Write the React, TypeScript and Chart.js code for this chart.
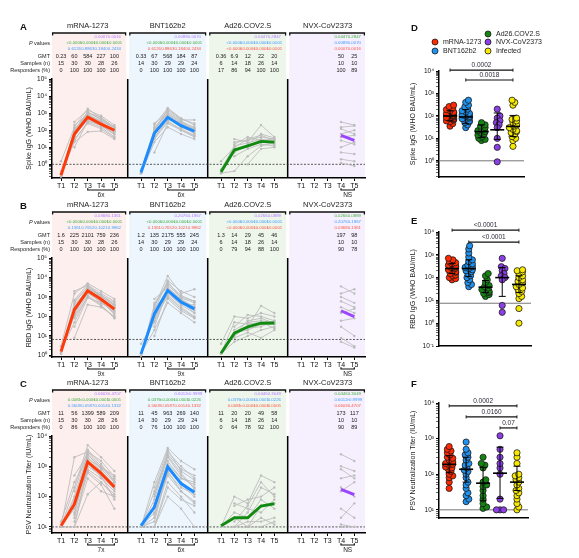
import React, { useEffect, useRef } from "react";
import { Chart, registerables } from "chart.js";

Chart.register(...registerables);

const FONT = '"Liberation Sans", Arial, Helvetica, sans-serif';

/* ---------------- categories & labels ---------------- */
const timepoints = ["T1", "T2", "T3", "T4", "T5"];
const vaccines = ["mRNA-1273", "BNT162b2", "Ad26.COV2.S", "NVX-CoV2373"];
const cohorts = ["mRNA-1273", "BNT162b2", "Ad26.COV2.S", "NVX-CoV2373", "Infected"];
const tableRowLabels = ["GMT", "Samples (n)", "Responders (%)"];
const pValueLabel = ["P", " values"];

/* ---------------- Panel A : Spike IgG (per subject, T1..T5; NVX T4..T5) ---------------- */
const spikeMrna = [
  [0.2, 80, 900, 300, 100], [0.3, 40, 600, 250, 80], [1.5, 150, 1800, 500, 160],
  [0.2, 25, 300, 150, 40], [0.25, 100, 1200, 400, 110], [null, 60, 500, 200, 70],
  [null, 200, 800, 350, 150], [0.4, 20, 80, 90, 30], [null, 50, 400, 180, 55],
  [0.2, 120, 700, 260, 95], [null, 30, 250, 120, 35], [null, 70, 1000, 600, 130],
  [null, 300, 1500, 700, 200], [0.3, 90, 1100, 450, 140], [null, 45, 700, 320, 90],
  [null, 10, 350, 200, 60],
];
const spikeBnt = [
  [0.3, 90, 1500, 400, 400], [0.35, 50, 700, 200, 90], [null, 200, 2000, 500, 200],
  [0.3, 30, 300, 120, 50], [0.4, 120, 900, 250, 110], [null, 60, 500, 150, 70],
  [null, 100, 400, 300, 150], [0.3, 20, 150, 60, 30], [null, 70, 600, 180, 80],
  [0.5, 40, 350, 100, 45], [null, 150, 1000, 300, 100], [null, 80, 800, 200, 60],
  [null, 110, 1800, 450, 250], [0.3, 35, 500, 220, 120], [null, 250, 1200, 350, 130],
  [null, 5, 250, 100, 40],
];
const spikeAd26 = [
  [0.3, 0.4, 3, 12, 18], [1.5, 10, 30, 50, 25], [null, 20, 25, 40, 30],
  [null, 5, 15, 60, 35], [0.3, 8, 10, 20, 15], [null, 30, 20, 200, 40],
  [null, 3, 8, 15, 12], [0.5, 12, 18, 30, 22], [null, null, 1, 8, 10],
  [null, 15, 40, 25, 30],
];
const spikeNvx = [
  [300, 200], [150, 180], [120, 60], [60, 100], [40, 50],
  [25, 15], [10, 20], [5, 4], [2, 1.5], [1.2, 0.8],
];
const spikeGmt = [[0.23, 60, 584, 227, 100], [0.33, 67, 568, 184, 87], [0.36, 6.9, 12, 22, 20], [50, 25]];
const spikeSamples = [[15, 30, 30, 28, 26], [14, 30, 29, 29, 24], [6, 14, 18, 26, 14], [10, 10]];
const spikeResponders = [[0, 100, 100, 100, 100], [0, 100, 100, 100, 100], [17, 86, 94, 100, 100], [100, 89]];
const spikePvals = [
  [["", "", "", "0.0007", "0.0016"], ["", "<0.0001", "<0.0001", "<0.0001", "<0.0001"], ["", "0.6126", "0.8863", "0.1840", "0.2434"]],
  [["", "", "", "0.0089", "0.0070"], ["", "<0.0001", "<0.0001", "<0.0001", "<0.0001"], ["", "0.6126", "0.8863", "0.1840", "0.2434"]],
  [["", "", "", "0.0447", "0.2847"], ["", "<0.0001", "<0.0001", "<0.0001", "<0.0001"], ["", "<0.0001", "<0.0001", "<0.0001", "<0.0001"]],
  [["", "", "", "0.0447", "0.2847"], ["", "", "", "0.0089", "0.0070"], ["", "", "", "0.0007", "0.0016"]],
];
const spikeFold = ["6x", "6x", "", "NS"];
const spikeCutoff = 1;

/* ---------------- Panel B : RBD IgG ---------------- */
const rbdMrna = [
  [1.5, 300, 3000, 1000, 400], [1.2, 200, 2000, 800, 300], [3, 1500, 5000, 2000, 800],
  [null, 8, 400, 300, 100], [1.5, 500, 3500, 1200, 500], [null, 100, 1500, 600, 150],
  [null, 2000, 4000, 1500, 600], [1.8, 50, 1200, 400, 80], [null, 250, 2500, 900, 250],
  [1.3, 150, 1800, 500, 200], [null, 400, 2200, 700, 120], [null, 80, 1000, 350, 90],
  [null, 600, 3000, 1100, 350], [1.4, 120, 2800, 1300, 400], [null, 30, 900, 500, 180],
  [null, 700, 4500, 900, 300],
];
const rbdBnt = [
  [1, 300, 12000, 1500, 2500], [1.2, 150, 3000, 700, 300], [4, 50, 1500, 400, 150],
  [null, 10, 800, 200, 80], [1.1, 400, 5000, 1200, 600], [null, 100, 2000, 500, 200],
  [null, 200, 7000, 2000, 1000], [1.3, 20, 500, 150, 50], [null, 800, 3000, 800, 300],
  [1, 150, 1200, 300, 100], [null, 60, 2500, 600, 150], [null, 250, 1800, 400, 400],
  [null, 500, 4000, 1000, 600], [1.2, 90, 1000, 250, 90], [null, 30, 2200, 700, 250],
  [null, 350, 6000, 900, 500],
];
const rbdAd26 = [
  [1.2, 5, 10, 20, 30], [4, 100, 80, 150, 100], [null, 20, 50, 60, 50],
  [null, 10, 30, 350, 150], [1.2, 15, 20, 40, 40], [null, 30, 120, 100, 60],
  [null, 8, 15, 8, 20], [1.3, 50, 40, 50, 25], [null, null, 25, 30, 60],
  [null, 12, 60, 80, 45],
];
const rbdNvx = [
  [3500, 1500], [1500, 2500], [1000, 500], [600, 300], [300, 150],
  [150, 250], [60, 80], [30, 10], [8, 3], [5, 2.5],
];
const rbdGmt = [[1.6, 225, 2101, 759, 236], [1.2, 135, 2175, 555, 245], [1.3, 14, 29, 45, 46], [197, 98]];
const rbdSamples = [[15, 30, 30, 28, 26], [14, 30, 29, 29, 24], [6, 14, 18, 26, 14], [10, 10]];
const rbdResponders = [[0, 100, 100, 100, 100], [0, 100, 100, 100, 100], [0, 79, 94, 88, 100], [90, 78]];
const rbdPvals = [
  [["", "", "", "0.0368", "0.1361"], ["", "<0.0001", "<0.0001", "<0.0001", "<0.0001"], ["", "0.1361", "0.7652", "0.1021", "0.9962"]],
  [["", "", "", "0.2076", "0.1967"], ["", "<0.0001", "<0.0001", "<0.0001", "<0.0001"], ["", "0.1361", "0.7652", "0.1021", "0.9962"]],
  [["", "", "", "0.0266", "0.0889"], ["", "<0.0001", "<0.0001", "<0.0001", "<0.0001"], ["", "<0.0001", "<0.0001", "<0.0001", "<0.0001"]],
  [["", "", "", "0.0266", "0.0889"], ["", "", "", "0.2076", "0.1967"], ["", "", "", "0.0368", "0.1361"]],
];
const rbdFold = ["9x", "9x", "", "NS"];
const rbdCutoff = 6.6;

/* ---------------- Panel C : PSV neutralization ---------------- */
const psvMrna = [
  [10, 2000, 3000, 1000, 400], [10, 50, 1500, 600, 200], [10, 10, 120, 300, 100],
  [10, 200, 5000, 2000, 700], [10, 100, 2500, 800, 300], [null, 30, 800, 400, 150],
  [null, 10, 1000, 500, 80], [15, 300, 2000, 700, 250], [null, 20, 600, 250, 40],
  [10, 80, 1800, 900, 500], [null, 15, 400, 150, 100], [null, 150, 3500, 1200, 300],
  [null, 500, 2500, 900, 350], [10, 40, 1200, 450, 180], [null, 25, 3000, 1500, 450],
  [null, 60, 700, 300, 120],
];
const psvBnt = [
  [10, 300, 4000, 1500, 800], [10, 10, 100, 40, 10], [10, 50, 1500, 400, 300],
  [10, 20, 800, 250, 100], [10, 150, 2500, 800, 500], [null, 10, 300, 100, 30],
  [null, 40, 1000, 300, 150], [10, 80, 2000, 500, 200], [null, 10, 200, 80, 50],
  [10, 30, 600, 200, 120], [null, 100, 3000, 1000, 400], [null, 25, 500, 150, 60],
  [null, 200, 3500, 700, 350], [10, 15, 700, 150, 70], [null, 60, 1200, 400, 250],
  [null, 120, 2200, 600, 180],
];
const psvAd26 = [
  [10, 10, 10, 20, 12], [10, 100, 60, 500, 300], [null, 50, 80, 100, 200],
  [null, 10, 30, 200, 120], [10, 20, 10, 50, 60], [null, 60, 40, 30, 80],
  [null, 10, 15, 15, 20], [10, 30, 20, 80, 40], [null, null, 10, 10, 15],
  [null, 15, 50, 300, 100],
];
const psvNvx = [
  [2500, 1500], [1000, 700], [800, 400], [400, 500], [200, 100],
  [150, 300], [40, 20], [10, 10], [12, 10], [20, 60],
];
const psvGmt = [[11, 56, 1399, 589, 209], [11, 45, 963, 269, 140], [11, 20, 20, 49, 58], [173, 117]];
const psvSamples = [[15, 30, 30, 28, 26], [14, 30, 29, 29, 24], [6, 14, 18, 26, 14], [10, 10]];
const psvResponders = [[0, 86, 100, 100, 100], [0, 76, 100, 100, 100], [0, 64, 78, 92, 100], [90, 89]];
const psvPvals = [
  [["", "", "", "0.0603", "0.4707"], ["", "0.0081", "<0.0001", "<0.0001", "0.0005"], ["", "0.5609", "0.0587", "0.0014", "0.1332"]],
  [["", "", "", "0.6012", ">0.9999"], ["", "0.0376", "<0.0001", "<0.0001", "0.0226"], ["", "0.5609", "0.0587", "0.0014", "0.1332"]],
  [["", "", "", "0.0446", "0.3049"], ["", "0.0376", "<0.0001", "<0.0001", "0.0226"], ["", "0.0081", "<0.0001", "<0.0001", "0.0005"]],
  [["", "", "", "0.0446", "0.3049"], ["", "", "", "0.6012", ">0.9999"], ["", "", "", "0.0603", "0.4707"]],
];
const psvFold = ["7x", "6x", "", "NS"];
const psvCutoff = 10;

/* ---------------- Panel D : Spike IgG by cohort ---------------- */
const spikeDotMrna = [35, 45, 55, 60, 65, 70, 75, 80, 85, 90, 95, 100, 105, 110, 120, 125, 130, 140, 150, 170, 190, 220, 260, 300];
const spikeDotBnt = [30, 40, 50, 55, 60, 70, 75, 80, 90, 95, 100, 110, 120, 130, 150, 170, 200, 250, 300, 400, 500];
const spikeDotAd26 = [8, 9, 10, 12, 14, 16, 18, 20, 22, 25, 30, 35, 40, 50];
const spikeDotNvx = [200, 100, 80, 60, 50, 40, 30, 10, 4, 0.9];
const spikeDotInf = [4.4, 8, 10, 12, 15, 18, 20, 22, 25, 30, 35, 40, 50, 60, 70, 80, 300, 400, 500];
const spikeDotMean = [100, 90, 20, 24, 34];
const spikeDotLo = [60, 45, 11, 9, 12];
const spikeDotHi = [170, 190, 40, 135, 105];
const spikePairs = [[0, 4], [1, 4]];
const spikePairP = ["0.0002", "0.0018"];

/* ---------------- Panel E : RBD IgG by cohort ---------------- */
const rbdDotMrna = [80, 90, 100, 120, 130, 150, 170, 180, 200, 220, 250, 260, 280, 300, 320, 350, 400, 450, 500, 600, 700];
const rbdDotBnt = [40, 50, 60, 80, 100, 120, 150, 180, 200, 220, 250, 280, 300, 350, 400, 500, 600, 800, 1200, 1800, 2500];
const rbdDotAd26 = [15, 18, 20, 22, 25, 28, 30, 35, 40, 45, 60, 80, 120, 150];
const rbdDotNvx = [700, 300, 250, 200, 150, 120, 100, 80, 6, 3];
const rbdDotInf = [1, 4.4, 12, 15, 20, 25, 30, 35, 40, 50, 60, 70, 80, 100, 120, 150, 180, 200, 220];
const rbdDotMean = [250, 250, 38, 100, 50];
const rbdDotLo = [150, 110, 22, 15, 22];
const rbdDotHi = [420, 600, 75, 280, 120];
const rbdPairs = [[0, 4], [1, 4]];
const rbdPairP = ["<0.0001", "<0.0001"];

/* ---------------- Panel F : PSV neutralization by cohort ---------------- */
const psvDotMrna = [40, 60, 80, 90, 100, 120, 140, 150, 160, 180, 190, 200, 220, 250, 280, 300, 350, 400, 450, 500, 600];
const psvDotBnt = [17, 20, 25, 30, 40, 50, 60, 80, 100, 120, 130, 150, 180, 200, 250, 300, 350, 400, 500, 800];
const psvDotAd26 = [11, 12, 15, 20, 25, 35, 45, 50, 60, 70, 150, 180, 200, 300];
const psvDotNvx = [10, 10, 10, 20, 100, 150, 200, 300, 500, 1200];
const psvDotInf = [10, 12, 15, 20, 25, 30, 35, 40, 50, 60, 70, 80, 90, 100, 200, 300, 400];
const psvDotMean = [190, 138, 56, 107, 60];
const psvDotLo = [110, 60, 18, 21, 35];
const psvDotHi = [330, 300, 157, 575, 168];
const psvPairs = [[0, 4], [1, 4], [3, 4]];
const psvPairP = ["0.0002", "0.0160", "0.07"];

/* ---------------- styling ---------------- */
const MEAN_COLORS = ["#ff3a0a", "#1a8cff", "#118a11", "#9b45ff"];
const DOT_COLORS = ["#ff2a00", "#2191ee", "#138413", "#8c3fe6", "#f7ea00"];
const P_COLORS = ["#ff5540", "#3d9cff", "#3fae3f", "#b07aff"];
const SHADES = ["#fdefed", "#edf5fd", "#eef6eb", "#f6effd"];
const GRAY = "#bdbdbd";
const pvalVs = [[3, 2, 1], [3, 2, 0], [3, 1, 0], [2, 1, 0]];

const SUP: Record<string, string> = { "0": "\u2070", "1": "\u00b9", "2": "\u00b2", "3": "\u00b3", "4": "\u2074", "5": "\u2075", "6": "\u2076", "7": "\u2077", "8": "\u2078", "9": "\u2079", "-": "\u207b" };
const isPow10 = (v: number) => Math.abs(Math.log10(v) - Math.round(Math.log10(v))) < 1e-6;
const powLabel = (v: number) =>
  isPow10(v) ? "10" + String(Math.round(Math.log10(v))).split("").map((c) => SUP[c]).join("") : "";

function logTicks(min: number, max: number) {
  const out: any[] = [];
  for (let e = Math.floor(Math.log10(min)); e <= Math.ceil(Math.log10(max)); e++) {
    for (let k = 1; k <= 9; k++) {
      const v = parseFloat((k * Math.pow(10, e)).toPrecision(6));
      if (v >= min * 0.999 && v <= max * 1.001) out.push({ value: v, major: k === 1 });
    }
  }
  return out;
}

function logAxis(min: number, max: number, title: string, width: number, titlePad: number) {
  return {
    type: "logarithmic",
    min,
    max,
    afterBuildTicks: (s: any) => {
      s.ticks = logTicks(min, max);
    },
    afterFit: (s: any) => {
      s.width = width;
    },
    ticks: {
      autoSkip: false,
      padding: 2,
      color: "#111",
      font: { size: 6.5, family: FONT },
      callback: (v: any) => powLabel(Number(v)),
    },
    grid: {
      drawOnChartArea: false,
      drawTicks: true,
      tickLength: 3,
      color: "#000",
      tickWidth: (c: any) => (c.tick && isPow10(c.tick.value) ? 1.1 : 0.6),
    },
    border: { display: true, color: "#000", width: 1.5 },
    title: {
      display: true,
      text: title,
      color: "#222",
      font: { size: 7, family: FONT },
      padding: { top: titlePad, bottom: 0 },
    },
  };
}

function swarm(values: number[], pxDecade: number, pxUnit: number, minDist = 3.3) {
  const order = values.map((_, i) => i).sort((a, b) => values[a] - values[b]);
  const placed: { x: number; y: number }[] = [];
  const offs = new Array(values.length).fill(0);
  for (const i of order) {
    const y = Math.log10(values[i]) * pxDecade;
    let best = 0;
    for (let step = 0; step < 10; step++) {
      const cand = step === 0 ? 0 : (step % 2 ? 1 : -1) * Math.ceil(step / 2) * 0.9;
      if (placed.every((p) => Math.hypot(p.x - cand, p.y - y) >= minDist)) {
        best = cand;
        break;
      }
      best = cand;
    }
    best = Math.max(-3.6, Math.min(3.6, best));
    placed.push({ x: best, y });
    offs[i] = best / pxUnit;
  }
  return offs;
}

/* ---------------- left panels (A, B, C) ---------------- */
type LeftPanel = {
  letter: string;
  yTitle: string;
  subjects: (number | null)[][][];
  gmt: number[][];
  samples: number[][];
  responders: number[][];
  pvals: string[][][];
  fold: string[];
  cutoff: number;
  min: number;
  max: number;
};

const xTickValues = [1, 2, 3, 4, 5, 7, 8, 9, 10, 11, 13, 14, 15, 16, 17, 19, 20, 21, 22, 23];
const X_MIN = 0.32;
const X_MAX = 23.8;

function leftDecor(p: LeftPanel) {
  const bounds = [X_MIN, 6, 12, 18, X_MAX];
  const line = (ctx: any, pts: number[][]) => {
    ctx.beginPath();
    pts.forEach(([a, b], i) => (i ? ctx.lineTo(a, b) : ctx.moveTo(a, b)));
    ctx.stroke();
  };
  return {
    id: "leftDecor",
    beforeDraw(chart: any) {
      const { ctx, chartArea: ca, scales } = chart;
      const x = scales.x;
      ctx.save();
      for (let g = 0; g < 4; g++) {
        const xl = x.getPixelForValue(bounds[g]);
        const xr = x.getPixelForValue(bounds[g + 1]);
        ctx.fillStyle = SHADES[g];
        ctx.fillRect(xl, ca.top, xr - xl, ca.bottom - ca.top);
        const il = g > 0 ? 1.5 : 0;
        const ir = g < 3 ? 1.5 : 0;
        ctx.fillRect(xl + il, ca.top - 46, xr - xl - il - ir, 46);
      }
      ctx.restore();
    },
    beforeDatasetsDraw(chart: any) {
      const { ctx, chartArea: ca, scales } = chart;
      const { x, y } = scales;
      ctx.save();
      ctx.strokeStyle = "#000";
      ctx.lineWidth = 1.5;
      for (const b of [6, 12, 18]) {
        const px = x.getPixelForValue(b);
        line(ctx, [[px, ca.top], [px, ca.bottom]]);
      }
      const cy = y.getPixelForValue(p.cutoff);
      ctx.setLineDash([2, 1.5]);
      ctx.strokeStyle = "#333";
      ctx.lineWidth = 0.8;
      line(ctx, [[ca.left, cy], [ca.right, cy]]);
      ctx.restore();
    },
    afterDraw(chart: any) {
      const { ctx, chartArea: ca, scales } = chart;
      const x = scales.x;
      const cx = (g: number, t: number) => x.getPixelForValue(g * 6 + t + 1);
      ctx.save();
      ctx.textBaseline = "middle";
      // panel letter
      ctx.textAlign = "left";
      ctx.fillStyle = "#111";
      ctx.font = `bold 9.5px ${FONT}`;
      ctx.fillText(p.letter, 20, ca.top - 52);
      // row labels
      ctx.textAlign = "right";
      ctx.fillStyle = "#222";
      ctx.font = `5.5px ${FONT}`;
      const lx = ca.left - 2;
      const restW = ctx.measureText(pValueLabel[1]).width;
      ctx.fillText(pValueLabel[1], lx, ca.top - 36);
      ctx.font = `italic 5.5px ${FONT}`;
      ctx.fillText(pValueLabel[0], lx - restW, ca.top - 36);
      ctx.font = `5.5px ${FONT}`;
      const rowY = [-23, -16, -8.5];
      tableRowLabels.forEach((l, r) => ctx.fillText(l, lx, ca.top + rowY[r]));
      ctx.textAlign = "center";
      for (let g = 0; g < 4; g++) {
        // group title and bracket
        ctx.fillStyle = "#222";
        ctx.font = `7.5px ${FONT}`;
        ctx.fillText(vaccines[g], x.getPixelForValue(g * 6 + 3), ca.top - 53);
        const xl = x.getPixelForValue(bounds[g]) + (g > 0 ? 1.5 : 0);
        const xr = x.getPixelForValue(bounds[g + 1]) - (g < 3 ? 1.5 : 0);
        ctx.strokeStyle = "#111";
        ctx.lineWidth = 1.3;
        line(ctx, [[xl + 0.6, ca.top - 43.5], [xl + 0.6, ca.top - 46], [xr - 0.6, ca.top - 46], [xr - 0.6, ca.top - 43.5]]);
        // p values
        ctx.font = `4.3px ${FONT}`;
        const pY = [-42, -36, -30];
        p.pvals[g].forEach((row, r) => {
          ctx.fillStyle = P_COLORS[pvalVs[g][r]];
          row.forEach((s, t) => {
            if (s) ctx.fillText(s, cx(g, t), ca.top + pY[r]);
          });
        });
        // table values
        ctx.font = `5.5px ${FONT}`;
        ctx.fillStyle = "#222";
        [p.gmt[g], p.samples[g], p.responders[g]].forEach((arr, r) => {
          const off = arr.length === 2 ? 3 : 0;
          arr.forEach((v, i) => ctx.fillText(String(v), cx(g, off + i), ca.top + rowY[r]));
        });
        // fold-change bracket
        if (p.fold[g]) {
          const t0 = g === 3 ? 3 : 2;
          const x0 = cx(g, t0);
          const x1 = cx(g, 4);
          const yb = ca.bottom + 12;
          ctx.strokeStyle = "#111";
          ctx.lineWidth = 1.2;
          line(ctx, [[x0, yb - 1.8], [x0, yb], [x1, yb], [x1, yb - 1.8]]);
          ctx.fillStyle = "#222";
          ctx.font = `6.5px ${FONT}`;
          ctx.fillText(p.fold[g], (x0 + x1) / 2, yb + 5);
        }
      }
      ctx.restore();
    },
  };
}

function leftConfig(p: LeftPanel): any {
  const datasets: any[] = [];
  p.subjects.forEach((subjects, g) => {
    subjects.forEach((s) => {
      const off = s.length === 2 ? 3 : 0;
      datasets.push({
        data: s.map((v, i) => ({ x: g * 6 + off + i + 1, y: v })),
        borderColor: GRAY,
        backgroundColor: GRAY,
        borderWidth: 0.9,
        pointRadius: 1.2,
        pointBorderWidth: 0,
        pointBackgroundColor: GRAY,
        spanGaps: false,
        order: 1,
      });
    });
  });
  p.gmt.forEach((m, g) => {
    const off = m.length === 2 ? 3 : 0;
    datasets.push({
      data: m.map((v, i) => ({ x: g * 6 + off + i + 1, y: v })),
      borderColor: MEAN_COLORS[g],
      borderWidth: 2.9,
      pointRadius: 0,
      order: 0,
    });
  });
  return {
    type: "line",
    data: { datasets },
    options: {
      responsive: false,
      animation: false,
      events: [],
      layout: { padding: { top: 64, left: 0, right: 7, bottom: 0 } },
      plugins: { legend: { display: false }, tooltip: { enabled: false } },
      scales: {
        x: {
          type: "linear",
          min: X_MIN,
          max: X_MAX,
          afterFit: (s: any) => {
            s.height = 24;
          },
          afterBuildTicks: (s: any) => {
            s.ticks = xTickValues.map((v) => ({ value: v }));
          },
          ticks: {
            autoSkip: false,
            maxRotation: 0,
            padding: 1,
            color: "#111",
            font: { size: 7, family: FONT },
            callback: (v: any) => timepoints[(Math.round(Number(v)) - 1) % 6],
          },
          grid: { drawOnChartArea: false, drawTicks: true, tickLength: 3, color: "#000" },
          border: { display: true, color: "#000", width: 1.5 },
        },
        y: logAxis(p.min, p.max, p.yTitle, 52, 25),
      },
    },
    plugins: [leftDecor(p)],
  };
}

/* ---------------- right panels (D, E, F) ---------------- */
type RightPanel = {
  letter: string;
  letterPos: number[];
  yTitle: string;
  values: number[][];
  mean: number[];
  lo: number[];
  hi: number[];
  pairs: number[][];
  pairP: string[];
  pairLevels: number[];
  cutoff: number;
  min: number;
  max: number;
  xMin: number;
  xMax: number;
  pxDecade: number;
  pxUnit: number;
  padTop: number;
  padRight: number;
  padBottom: number;
  legend: boolean;
};

const legendSlots = [[35, 22], [35, 31], [88, 14], [88, 22], [88, 31]];

function rightDecor(p: RightPanel) {
  const line = (ctx: any, pts: number[][]) => {
    ctx.beginPath();
    pts.forEach(([a, b], i) => (i ? ctx.lineTo(a, b) : ctx.moveTo(a, b)));
    ctx.stroke();
  };
  return {
    id: "rightDecor",
    beforeDatasetsDraw(chart: any) {
      const { ctx, chartArea: ca, scales } = chart;
      const cy = scales.y.getPixelForValue(p.cutoff);
      ctx.save();
      ctx.strokeStyle = "#777";
      ctx.lineWidth = 1;
      line(ctx, [[ca.left, cy], [ca.right, cy]]);
      ctx.restore();
    },
    afterDatasetsDraw(chart: any) {
      const { ctx, scales } = chart;
      const { x, y } = scales;
      ctx.save();
      ctx.strokeStyle = "#000";
      for (let g = 0; g < p.mean.length; g++) {
        const px = x.getPixelForValue(g);
        const ym = y.getPixelForValue(p.mean[g]);
        const yl = y.getPixelForValue(p.lo[g]);
        const yh = y.getPixelForValue(p.hi[g]);
        ctx.lineWidth = 1;
        line(ctx, [[px, yl], [px, yh]]);
        line(ctx, [[px - 3.5, yl], [px + 3.5, yl]]);
        line(ctx, [[px - 3.5, yh], [px + 3.5, yh]]);
        ctx.lineWidth = 1.6;
        line(ctx, [[px - 7, ym], [px + 7, ym]]);
      }
      ctx.textAlign = "center";
      ctx.textBaseline = "bottom";
      ctx.font = `6.5px ${FONT}`;
      p.pairs.forEach(([a, b], i) => {
        const x0 = x.getPixelForValue(a);
        const x1 = x.getPixelForValue(b);
        const yb = y.getPixelForValue(p.pairLevels[i]);
        ctx.strokeStyle = "#111";
        ctx.lineWidth = 1.2;
        line(ctx, [[x0, yb], [x1, yb]]);
        ctx.lineWidth = 0.9;
        line(ctx, [[x0, yb - 1.6], [x0, yb + 1.6]]);
        line(ctx, [[x1, yb - 1.6], [x1, yb + 1.6]]);
        ctx.fillStyle = "#2a2a3a";
        ctx.fillText(p.pairP[i], (x0 + x1) / 2, yb - 1.5);
      });
      ctx.restore();
    },
    afterDraw(chart: any) {
      const { ctx } = chart;
      ctx.save();
      ctx.textAlign = "left";
      ctx.textBaseline = "middle";
      ctx.fillStyle = "#111";
      ctx.font = `bold 9.5px ${FONT}`;
      ctx.fillText(p.letter, p.letterPos[0], p.letterPos[1]);
      if (p.legend) {
        ctx.font = `7px ${FONT}`;
        chart.data.datasets.forEach((ds: any, i: number) => {
          const [lx, ly] = legendSlots[i];
          ctx.beginPath();
          ctx.arc(lx, ly, 3, 0, Math.PI * 2);
          ctx.fillStyle = ds.backgroundColor;
          ctx.fill();
          ctx.lineWidth = 0.8;
          ctx.strokeStyle = "#1a1a1a";
          ctx.stroke();
          ctx.fillStyle = "#222";
          ctx.fillText(ds.label, lx + 8, ly + 0.5);
        });
      }
      ctx.restore();
    },
  };
}

function rightConfig(p: RightPanel): any {
  const datasets = p.values.map((vals, g) => {
    const offs = swarm(vals, p.pxDecade, p.pxUnit);
    return {
      label: cohorts[g],
      data: vals.map((v, i) => ({ x: g + offs[i], y: v })),
      backgroundColor: DOT_COLORS[g],
      borderColor: "#1a1a1a",
      borderWidth: 0.8,
      pointRadius: 3.1,
    };
  });
  return {
    type: "scatter",
    data: { datasets },
    options: {
      responsive: false,
      animation: false,
      events: [],
      layout: { padding: { top: p.padTop, left: 0, right: p.padRight, bottom: p.padBottom } },
      plugins: { legend: { display: false }, tooltip: { enabled: false } },
      scales: {
        x: {
          type: "linear",
          min: p.xMin,
          max: p.xMax,
          afterFit: (s: any) => {
            s.height = 2;
          },
          ticks: { display: false },
          grid: { display: false },
          border: { display: true, color: "#000", width: 1.5 },
        },
        y: logAxis(p.min, p.max, p.yTitle, 39, 9),
      },
    },
    plugins: [rightDecor(p)],
  };
}

/* ---------------- panel definitions ---------------- */
const panelA: LeftPanel = {
  letter: "A", yTitle: "Spike IgG (WHO BAU/mL)",
  subjects: [spikeMrna, spikeBnt, spikeAd26, spikeNvx],
  gmt: spikeGmt, samples: spikeSamples, responders: spikeResponders, pvals: spikePvals,
  fold: spikeFold, cutoff: spikeCutoff, min: 0.158, max: 1e5,
};
const panelB: LeftPanel = {
  letter: "B", yTitle: "RBD IgG (WHO BAU/mL)",
  subjects: [rbdMrna, rbdBnt, rbdAd26, rbdNvx],
  gmt: rbdGmt, samples: rbdSamples, responders: rbdResponders, pvals: rbdPvals,
  fold: rbdFold, cutoff: rbdCutoff, min: 0.83, max: 1e5,
};
const panelC: LeftPanel = {
  letter: "C", yTitle: "PSV Neutralization Titer (IU/mL)",
  subjects: [psvMrna, psvBnt, psvAd26, psvNvx],
  gmt: psvGmt, samples: psvSamples, responders: psvResponders, pvals: psvPvals,
  fold: psvFold, cutoff: psvCutoff, min: 6.3, max: 1e4,
};
const panelD: RightPanel = {
  letter: "D", letterPos: [11, 8], yTitle: "Spike IgG (WHO BAU/mL)",
  values: [spikeDotMrna, spikeDotBnt, spikeDotAd26, spikeDotNvx, spikeDotInf],
  mean: spikeDotMean, lo: spikeDotLo, hi: spikeDotHi,
  pairs: spikePairs, pairP: spikePairP, pairLevels: [Math.pow(10, 4.04), Math.pow(10, 3.6)],
  cutoff: spikeCutoff, min: 0.19, max: 1e4, xMin: -0.7, xMax: 4.7,
  pxDecade: 22.5, pxUnit: 15.75, padTop: 51, padRight: 55, padBottom: 5, legend: true,
};
const panelE: RightPanel = {
  letter: "E", letterPos: [11, 21], yTitle: "RBD IgG (WHO BAU/mL)",
  values: [rbdDotMrna, rbdDotBnt, rbdDotAd26, rbdDotNvx, rbdDotInf],
  mean: rbdDotMean, lo: rbdDotLo, hi: rbdDotHi,
  pairs: rbdPairs, pairP: rbdPairP, pairLevels: [Math.pow(10, 4.08), Math.pow(10, 3.56)],
  cutoff: 7.5, min: 0.1, max: 1e4, xMin: -0.78, xMax: 4.72,
  pxDecade: 22.5, pxUnit: 16.75, padTop: 32, padRight: 9, padBottom: 5, legend: false,
};
const panelF: RightPanel = {
  letter: "F", letterPos: [11, 14], yTitle: "PSV Neutralization Titer (IU/mL)",
  values: [psvDotMrna, psvDotBnt, psvDotAd26, psvDotNvx, psvDotInf],
  mean: psvDotMean, lo: psvDotLo, hi: psvDotHi,
  pairs: psvPairs, pairP: psvPairP, pairLevels: [Math.pow(10, 3.92), Math.pow(10, 3.61), Math.pow(10, 3.3)],
  cutoff: psvCutoff, min: 5.9, max: 1e4, xMin: -0.6, xMax: 4.65,
  pxDecade: 35.5, pxUnit: 17, padTop: 33, padRight: 7, padBottom: 5, legend: false,
};

function ChartCanvas({ make, left, top, width, height }: { make: () => any; left: number; top: number; width: number; height: number }) {
  const ref = useRef<HTMLCanvasElement | null>(null);
  useEffect(() => {
    const chart = new Chart(ref.current as HTMLCanvasElement, make());
    return () => chart.destroy();
  }, []);
  return (
    <canvas
      ref={ref}
      width={width}
      height={height}
      style={{ position: "absolute", left, top, width, height, display: "block" }}
    />
  );
}

export default function App() {
  return (
    <div style={{ position: "absolute", left: 0, top: 0, width: 579, height: 558, background: "#fff", overflow: "hidden" }}>
      <ChartCanvas make={() => leftConfig(panelA)} left={0} top={15} width={372} height={187} />
      <ChartCanvas make={() => leftConfig(panelB)} left={0} top={194} width={372} height={187} />
      <ChartCanvas make={() => leftConfig(panelC)} left={0} top={372} width={372} height={185} />
      <ChartCanvas make={() => rightConfig(panelD)} left={400} top={20} width={179} height={164} />
      <ChartCanvas make={() => rightConfig(panelE)} left={400} top={200} width={140} height={153} />
      <ChartCanvas make={() => rightConfig(panelF)} left={400} top={370} width={135} height={155} />
    </div>
  );
}
